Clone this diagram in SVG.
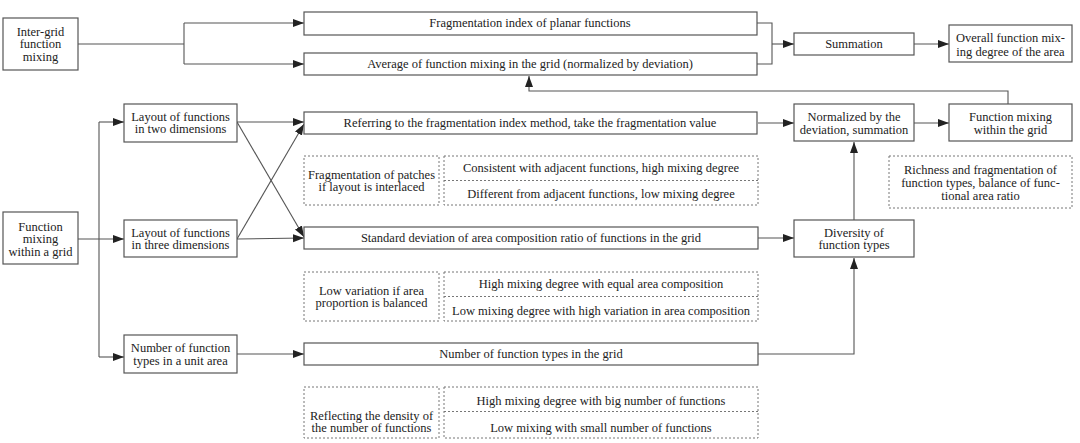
<svg xmlns="http://www.w3.org/2000/svg" width="1080" height="443" viewBox="0 0 1080 443">
<style>
.b{fill:#fff;stroke:#555;stroke-width:1.2}
.d{fill:none;stroke:#777;stroke-width:1;stroke-dasharray:2,2}
.t{font-family:"Liberation Serif","Times New Roman",serif;font-size:12.5px;fill:#222;text-anchor:middle}
.c{fill:none;stroke:#555;stroke-width:1.1}
</style>
<defs>
<marker id="a" markerUnits="userSpaceOnUse" markerWidth="12" markerHeight="9" refX="11" refY="4" orient="auto">
<path d="M0,0 L11,4 L0,8 z" fill="#222"/>
</marker>
</defs>
<rect width="1080" height="443" fill="#fff"/>
<g id="connectors">
<polyline class="c" points="78,44 184,44"/>
<polyline class="c" points="184,23 184,64"/>
<polyline class="c" points="184,23 304,23" marker-end="url(#a)"/>
<polyline class="c" points="184,64 304,64" marker-end="url(#a)"/>
<polyline class="c" points="757,23 772,23 772,64 757,64"/>
<polyline class="c" points="772,44 794,44" marker-end="url(#a)"/>
<polyline class="c" points="914,44 949,44" marker-end="url(#a)"/>
<polyline class="c" points="1008,104 1008,91 529,91 529,76" marker-end="url(#a)"/>
<polyline class="c" points="78,239 124,239" marker-end="url(#a)"/>
<polyline class="c" points="99,122 99,357"/>
<polyline class="c" points="99,122 124,122" marker-end="url(#a)"/>
<polyline class="c" points="99,357 124,357" marker-end="url(#a)"/>
<polyline class="c" points="237,122 304,122" marker-end="url(#a)"/>
<polyline class="c" points="237,122 304,237" marker-end="url(#a)"/>
<polyline class="c" points="237,239 304,238" marker-end="url(#a)"/>
<polyline class="c" points="237,239 304,124" marker-end="url(#a)"/>
<polyline class="c" points="237,354 304,354" marker-end="url(#a)"/>
<polyline class="c" points="758,123 794,123" marker-end="url(#a)"/>
<polyline class="c" points="914,123 949,123" marker-end="url(#a)"/>
<polyline class="c" points="758,238 794,238" marker-end="url(#a)"/>
<polyline class="c" points="758,354 854,354 854,258" marker-end="url(#a)"/>
<polyline class="c" points="854,220 854,142" marker-end="url(#a)"/>
</g>
<g id="inter-grid"><rect class="b" x="3" y="18" width="75" height="52"/>
<text class="t" x="40.5" y="36">Inter-grid</text><text class="t" x="40.5" y="48">function</text><text class="t" x="40.5" y="61">mixing</text></g>
<g id="frag-index"><rect class="b" x="304" y="12" width="453" height="23"/><text class="t" x="530" y="27">Fragmentation index of planar functions</text></g>
<g id="average"><rect class="b" x="304" y="53" width="453" height="22"/><text class="t" x="530" y="68">Average of function mixing in the grid (normalized by deviation)</text></g>
<g id="summation"><rect class="b" x="794" y="33" width="120" height="22"/><text class="t" x="854" y="48">Summation</text></g>
<g id="overall"><rect class="b" x="949" y="25" width="123" height="37"/><text class="t" x="1010.5" y="42">Overall function mix-</text><text class="t" x="1010.5" y="56">ing degree of the area</text></g>
<g id="within-a-grid"><rect class="b" x="3" y="212" width="75" height="52"/>
<text class="t" x="40.5" y="231">Function</text><text class="t" x="40.5" y="243">mixing</text><text class="t" x="40.5" y="256">within a grid</text></g>
<g id="layout2"><rect class="b" x="124" y="104" width="113" height="38"/><text class="t" x="180.5" y="121">Layout of functions</text><text class="t" x="180.5" y="133">in two dimensions</text></g>
<g id="layout3"><rect class="b" x="124" y="220" width="113" height="37"/><text class="t" x="180.5" y="237">Layout of functions</text><text class="t" x="180.5" y="249">in three dimensions</text></g>
<g id="num-unit"><rect class="b" x="124" y="335" width="113" height="38"/><text class="t" x="180.5" y="352">Number of function</text><text class="t" x="180.5" y="365">types in a unit area</text></g>
<g id="referring"><rect class="b" x="304" y="112" width="453" height="22"/><text class="t" x="530" y="127">Referring to the fragmentation index method, take the fragmentation value</text></g>
<g id="std"><rect class="b" x="304" y="227" width="454" height="22"/><text class="t" x="531" y="242">Standard deviation of area composition ratio of functions in the grid</text></g>
<g id="num-grid"><rect class="b" x="304" y="343" width="454" height="22"/><text class="t" x="531" y="358">Number of function types in the grid</text></g>
<g id="normalized"><rect class="b" x="794" y="104" width="120" height="37"/><text class="t" x="854" y="121">Normalized by the</text><text class="t" x="854" y="134">deviation, summation</text></g>
<g id="within-the-grid"><rect class="b" x="949" y="104" width="123" height="37"/><text class="t" x="1010.5" y="121">Function mixing</text><text class="t" x="1010.5" y="134">within the grid</text></g>
<g id="diversity"><rect class="b" x="794" y="220" width="120" height="37"/><text class="t" x="854" y="237">Diversity of</text><text class="t" x="854" y="249">function types</text></g>
<g id="richness"><rect class="d" x="889" y="156" width="183" height="52"/>
<text class="t" x="980.5" y="174">Richness and fragmentation of</text><text class="t" x="980.5" y="187">function types, balance of func-</text><text class="t" x="980.5" y="200">tional area ratio</text></g>
<g id="note1"><rect class="d" x="304" y="156" width="135" height="49"/><rect class="d" x="444" y="156" width="314" height="49"/><line class="d" x1="444" y1="180.5" x2="758" y2="180.5"/>
<text class="t" x="371.5" y="179">Fragmentation of patches</text><text class="t" x="371.5" y="191">if layout is interlaced</text>
<text class="t" x="601" y="172">Consistent with adjacent functions, high mixing degree</text><text class="t" x="601" y="198">Different from adjacent functions, low mixing degree</text></g>
<g id="note2"><rect class="d" x="304" y="272" width="135" height="49"/><rect class="d" x="444" y="272" width="314" height="49"/><line class="d" x1="444" y1="296.5" x2="758" y2="296.5"/>
<text class="t" x="371.5" y="295">Low variation if area</text><text class="t" x="371.5" y="307">proportion is balanced</text>
<text class="t" x="601" y="288">High mixing degree with equal area composition</text><text class="t" x="601" y="315">Low mixing degree with high variation in area composition</text></g>
<g id="note3"><rect class="d" x="304" y="387" width="135" height="51"/><rect class="d" x="444" y="387" width="314" height="51"/><line class="d" x1="444" y1="411.5" x2="758" y2="411.5"/>
<text class="t" x="371.5" y="420">Reflecting the density of</text><text class="t" x="371.5" y="432">the number of functions</text>
<text class="t" x="601" y="405">High mixing degree with big number of functions</text><text class="t" x="601" y="432">Low mixing with small number of functions</text></g>
</svg>
